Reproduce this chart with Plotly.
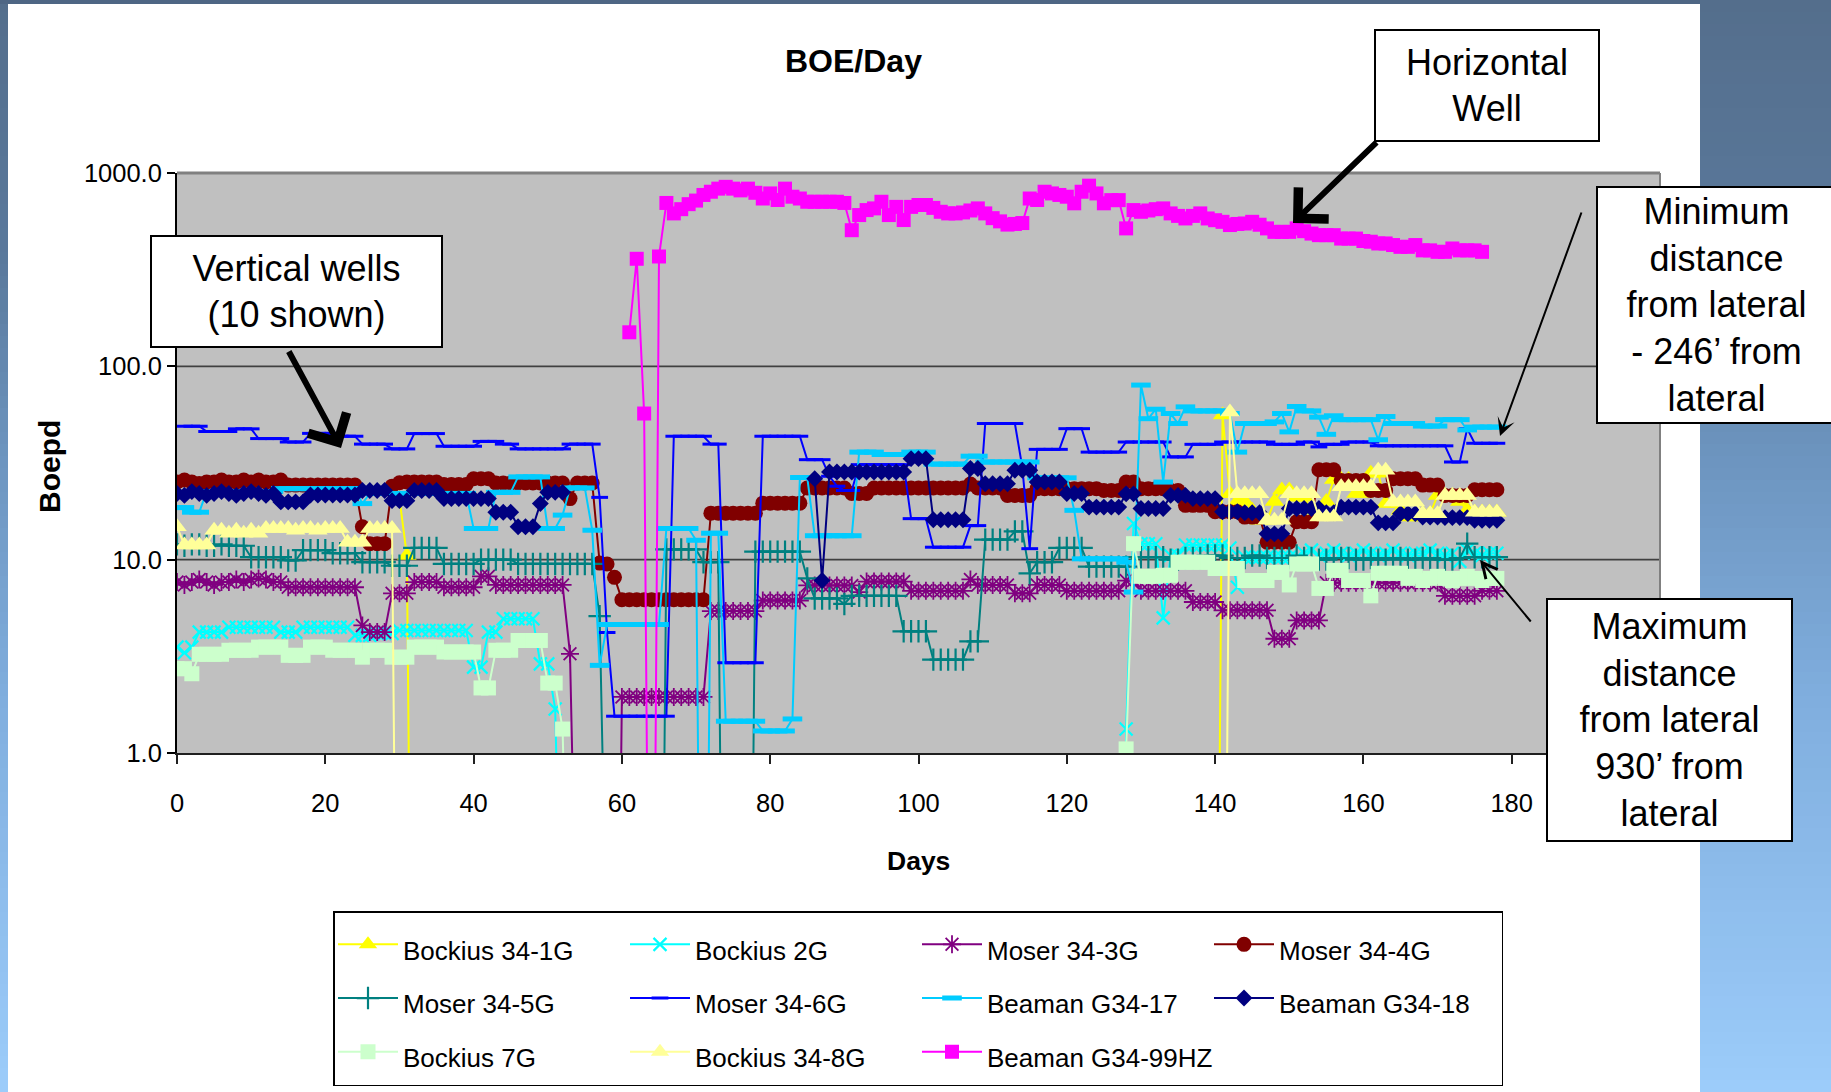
import plotly.graph_objects as go

# ---------------------------------------------------------------------------
# Daily production (BOE/day) for each well, index = production day 0..178.
# None = no reading; 0 = no production that day (drops below the log axis).
# ---------------------------------------------------------------------------
days = list(range(179))

bockius_34_1g = [
    None, None, None, None, None, None, None, None, None, None,   # 0
    None, None, None, None, None, None, None, None, None, None,   # 10
    None, None, None, None, None, None, None, None, None, None,   # 20
    20.7, 10.5, 0, 0, 0, 0, 0, 0, 0, 0,                           # 30
    0, 0, 0, 0, 0, 0, 0, 0, 0, 0,                                 # 40
    0, 0, 0, 0, 0, 0, 0, 0, 0, 0,                                 # 50
    0, 0, 0, 0, 0, 0, 0, 0, 0, 0,                                 # 60
    0, 0, 0, 0, 0, 0, 0, 0, 0, 0,                                 # 70
    0, 0, 0, 0, 0, 0, 0, 0, 0, 0,                                 # 80
    0, 0, 0, 0, 0, 0, 0, 0, 0, 0,                                 # 90
    0, 0, 0, 0, 0, 0, 0, 0, 0, 0,                                 # 100
    0, 0, 0, 0, 0, 0, 0, 0, 0, 0,                                 # 110
    0, 0, 0, 0, 0, 0, 0, 0, 0, 0,                                 # 120
    0, 0, 0, 0, 0, 0, 0, 0, 0, 0,                                 # 130
    0, 56, 21.9, 20, 20, 18, 16, 16, 20, 22.9,                    # 140
    22.9, 21, 21, 18, 17, 20, 26, 26, 26, 22,                     # 150
    22, 28, 28, 19.5, 19.5, 18, 16.6, 16.6, 17.3, 17.3,           # 160
    21.5, 21.5, 21.5, 20, 18, 17.6, 17.6, 17.6, 17.6,             # 170
]

bockius_2g = [
    3.53, 3.3, 3.53, 4.22, 4.22, 4.22, 4.22, 4.47, 4.47, 4.47,    # 0
    4.47, 4.47, 4.47, 4.47, 4.22, 4.22, 4.22, 4.47, 4.47, 4.47,   # 10
    4.47, 4.47, 4.47, 4.47, 4.06, 4.06, 4.06, 4.15, 4.15, 4.15,   # 20
    4.3, 4.3, 4.3, 4.3, 4.3, 4.3, 4.3, 4.3, 4.3, 4.3,             # 30
    2.78, 2.78, 4.22, 4.22, 4.95, 4.95, 4.95, 4.95, 4.95, 2.89,   # 40
    2.89, 1.69, 0, 0, 0, 0, 0, 0, 0, 0,                           # 50
    0, 0, 0, 0, 0, 0, 0, 0, 0, 0,                                 # 60
    0, 0, 0, 0, 0, 0, 0, 0, 0, 0,                                 # 70
    0, 0, 0, 0, 0, 0, 0, 0, 0, 0,                                 # 80
    0, 0, 0, 0, 0, 0, 0, 0, 0, 0,                                 # 90
    0, 0, 0, 0, 0, 0, 0, 0, 0, 0,                                 # 100
    0, 0, 0, 0, 0, 0, 0, 0, 0, 0,                                 # 110
    0, 0, 0, 0, 0, 0, 0, 0, 1.33, 15.4,                           # 120
    12.1, 12.1, 12.1, 5.0, 10.5, 10.5, 11.9, 11.9, 11.9, 11.9,    # 130
    11.9, 11.9, 11.5, 7.2, 10.3, 10.3, 10.3, 10.3, 10.3, 10.3,    # 140
    10.3, 10.3, 10.8, 11.2, 10.5, 10.8, 11.2, 10.8, 10.5, 10.8,   # 150
    11.2, 10.8, 10.5, 10.8, 11.2, 10.8, 10.5, 10.8, 10.8, 11.2,   # 160
    10.8, 10.5, 10.8, 9.8, 11.2, 10.8, 10.5, 10.8, 10.8,          # 170
]

moser_34_3g = [
    7.66, 7.4, 7.66, 7.9, 7.66, 7.4, 7.66, 7.66, 7.9, 7.66,       # 0
    7.9, 8.0, 7.9, 7.66, 7.66, 7.2, 7.2, 7.2, 7.2, 7.2,           # 10
    7.2, 7.2, 7.2, 7.2, 7.2, 4.57, 4.22, 4.22, 4.22, 6.7,         # 20
    6.7, 6.7, 7.66, 7.66, 7.66, 7.66, 7.2, 7.2, 7.2, 7.2,         # 30
    7.2, 8.2, 8.2, 7.4, 7.4, 7.4, 7.4, 7.4, 7.4, 7.4,             # 40
    7.4, 7.4, 7.4, 3.26, 0, 0, 0, 0, 0, 0,                        # 50
    1.95, 1.95, 1.95, 1.95, 1.95, 1.95, 1.95, 1.95, 1.95, 1.95,   # 60
    1.95, 1.95, 5.42, 5.42, 5.42, 5.42, 5.42, 5.42, 5.42, 6.15,   # 70
    6.15, 6.15, 6.15, 6.15, 6.15, 7.36, 7.36, 7.36, 7.36, 7.36,   # 80
    7.36, 7.36, 6.8, 7.7, 7.7, 7.7, 7.7, 7.7, 7.7, 6.9,           # 90
    6.9, 6.9, 6.9, 6.9, 6.9, 6.9, 6.9, 7.9, 7.4, 7.4,             # 100
    7.4, 7.4, 7.4, 6.7, 6.7, 6.7, 7.4, 7.4, 7.4, 7.4,             # 110
    6.9, 6.9, 6.9, 6.9, 6.9, 6.9, 6.9, 6.9, 7.8, 7.8,             # 120
    6.9, 6.9, 6.9, 6.9, 6.9, 6.9, 6.9, 6.04, 6.04, 6.04,          # 130
    6.04, 5.47, 5.47, 5.47, 5.47, 5.47, 5.47, 5.47, 3.9, 3.9,     # 140
    3.9, 4.85, 4.85, 4.85, 4.85, 7.6, 7.6, 7.6, 7.6, 7.6,         # 150
    7.6, 7.6, 7.6, 7.6, 7.6, 7.6, 7.6, 7.6, 7.6, 7.6,             # 160
    7.6, 6.5, 6.5, 6.5, 6.5, 6.5, 6.9, 6.9, 6.9,                  # 170
]

moser_34_4g = [
    25.2, 25.8, 25.2, 24.8, 25.2, 25.2, 25.8, 25.2, 25.2, 25.8,   # 0
    25.2, 25.8, 25.2, 25.2, 25.8, 24.3, 24.3, 24.3, 24.3, 24.3,   # 10
    24.3, 24.3, 24.3, 24.3, 24.3, 14.8, 12.1, 12.1, 12.1, 24.0,   # 20
    25.0, 25.2, 25.2, 25.2, 25.2, 25.2, 24.5, 24.5, 24.5, 24.5,   # 30
    26.2, 26.2, 26.2, 24.9, 24.9, 24.9, 24.9, 24.9, 24.9, 24.9,   # 40
    24.9, 24.9, 24.9, 20.7, 24.9, 24.9, 24.9, 9.6, 9.5, 8.1,      # 50
    6.2, 6.2, 6.2, 6.2, 6.2, 6.2, 6.2, 6.2, 6.2, 6.2,             # 60
    6.2, 6.2, 17.4, 17.4, 17.4, 17.4, 17.4, 17.4, 17.4, 19.6,     # 70
    19.6, 19.6, 19.6, 19.6, 19.6, 23.5, 23.5, 23.5, 23.5, 23.5,   # 80
    23.5, 22.0, 22.0, 22.0, 23.5, 23.5, 23.5, 23.5, 23.5, 23.5,   # 90
    23.5, 23.5, 23.5, 23.5, 23.5, 23.5, 23.5, 24.6, 23.5, 23.5,   # 100
    23.5, 23.5, 21.5, 21.5, 21.5, 21.5, 23.3, 23.3, 23.3, 23.3,   # 110
    23.3, 23.3, 23.3, 23.3, 23.3, 22.8, 22.8, 22.8, 25.2, 25.2,   # 120
    23.3, 23.3, 23.3, 23.3, 22.8, 22.8, 19.1, 19.1, 19.1, 19.1,   # 130
    17.7, 17.7, 17.7, 17.7, 16.6, 16.6, 16.6, 12.3, 12.3, 12.3,   # 140
    12.3, 15.7, 15.7, 15.7, 29.2, 29.2, 29.2, 25.7, 25.7, 25.7,   # 150
    25.7, 22.8, 22.8, 22.8, 26.2, 26.2, 26.2, 26.2, 24.3, 24.3,   # 160
    24.3, 21.5, 21.5, 21.5, 21.5, 23.0, 23.0, 23.0, 23.0,         # 170
]

moser_34_5g = [
    12.0, 11.8, 12.0, 12.0, 11.8, 11.8, 12.0, 11.8, 11.8, 11.8,   # 0
    10.3, 10.3, 10.3, 10.3, 10.3, 9.9, 9.9, 11.2, 11.2, 11.2,     # 10
    11.2, 10.8, 10.8, 10.8, 10.8, 9.7, 9.7, 9.7, 9.7, 9.3,        # 20
    9.3, 9.3, 11.5, 11.5, 11.5, 11.5, 9.5, 9.5, 9.5, 9.5,         # 30
    9.5, 10.0, 10.0, 10.0, 10.0, 10.0, 9.5, 9.5, 9.5, 9.5,        # 40
    9.5, 9.5, 9.5, 9.5, 9.5, 9.5, 9.5, 5.1, 0, 0,                 # 50
    0, 0, 0, 0, 0, 0, 11.3, 11.3, 11.3, 11.3,                     # 60
    11.3, 9.7, 9.7, 9.7, 0, 0, 0, 0, 11.0, 11.0,                  # 70
    11.0, 11.0, 11.0, 11.0, 11.0, 8.0, 6.3, 6.3, 6.3, 6.3,        # 80
    5.9, 6.5, 6.5, 6.5, 6.5, 6.5, 6.5, 6.5, 4.26, 4.26,           # 90
    4.26, 4.26, 3.04, 3.04, 3.04, 3.04, 3.04, 3.78, 3.78, 12.7,   # 100
    12.7, 12.7, 12.7, 14.0, 14.0, 8.5, 9.7, 9.7, 9.7, 11.5,       # 110
    11.5, 11.5, 11.5, 9.2, 9.2, 9.2, 9.2, 9.2, 9.2, 10.3,         # 120
    10.3, 10.3, 10.3, 10.3, 10.0, 10.0, 10.2, 10.2, 10.2, 10.5,   # 130
    10.5, 10.5, 10.2, 10.2, 10.2, 10.5, 10.5, 10.2, 10.2, 10.2,   # 140
    10.2, 10.5, 10.2, 10.2, 10.0, 10.0, 10.2, 10.2, 10.2, 10.0,   # 150
    10.0, 10.2, 10.0, 10.0, 10.2, 10.2, 10.0, 10.0, 10.2, 10.2,   # 160
    10.0, 10.0, 10.0, 10.2, 12.1, 10.3, 10.3, 10.3, 10.3,         # 170
]

moser_34_6g = [
    None, 49, 49, 49, 46, 46, 46, 46, 47.5, 47.5,                 # 0
    47.5, 42.3, 42.3, 42.3, 42.3, 40.6, 40.6, 40.6, 45, 45,       # 10
    45, 45, 43.5, 43.5, 43.5, 39.6, 39.6, 39.6, 39.6, 37.4,       # 20
    37.4, 37.4, 44.9, 44.9, 44.9, 44.9, 38.6, 38.6, 38.6, 38.6,   # 30
    38.6, 40.9, 40.9, 40.9, 39.6, 39.6, 37.4, 37.4, 37.4, 37.4,   # 40
    37.4, 37.4, 37.4, 39.6, 39.6, 39.6, 39.6, 21, 4.2, 1.55,      # 50
    1.55, 1.55, 1.55, 1.55, 1.55, 1.55, 1.55, 43.5, 43.5, 43.5,   # 60
    43.5, 43.5, 39.6, 39.6, 2.93, 2.93, 2.93, 2.93, 2.93, 43.5,   # 70
    43.5, 43.5, 43.5, 43.5, 43.5, 32.9, 32.9, 32.9, 27, 24,       # 80
    22.8, 22.8, 31, 31, 31, 31, 31, 31, 31, 16.3,                 # 90
    16.3, 16.3, 11.6, 11.6, 11.6, 11.6, 11.6, 15, 15, 50.6,       # 100
    50.6, 50.6, 50.6, 50.6, 30, 11.4, 37.2, 37.2, 37.2, 37.2,     # 110
    47.6, 47.6, 47.6, 36, 36, 36, 36, 36, 40.6, 40.6,             # 120
    40.6, 40.6, 40.6, 40.6, 34, 34, 34, 39.5, 39.5, 39.5,         # 130
    39.5, 40.6, 40.6, 40.6, 40.6, 40.6, 40.6, 40.6, 39.5, 39.5,   # 140
    39.5, 39.5, 40.6, 40.6, 38.3, 39.5, 39.5, 39.5, 40.6, 40.6,   # 150
    40.6, 40.6, 38.8, 38.8, 38.8, 38.8, 38.8, 38.8, 38.8, 38.8,   # 160
    38.8, 38.8, 32, 32, 47.6, 40, 40, 40, 40,                     # 170
]

beaman_g34_17 = [
    18.6, 18.6, 17.6, 17.6, 22.5, 22.5, 22.5, 22.5, 22.5, 22.5,   # 0
    22.5, 22.5, 22.5, 22.5, 23.3, 23.3, 23.3, 23.3, 23.3, 23.3,   # 10
    23.3, 23.3, 23.3, 23.3, 23.3, 19.5, 22, 22, 22, 22,           # 20
    22, 22, 22, 22, 22, 22, 22, 22, 22, 22,                       # 30
    14.5, 14.5, 14.5, 22.3, 22.3, 22.3, 26.8, 26.8, 26.8, 26.8,   # 40
    14.5, 14.5, 17, 23.5, 23.5, 23.5, 14.2, 2.84, 4.62, 4.62,     # 50
    4.62, 4.62, 4.62, 4.62, 4.62, 4.62, 14.5, 14.5, 14.5, 14.5,   # 60
    12.6, 0, 13.7, 13.7, 1.46, 1.46, 1.46, 1.46, 1.46, 1.3,       # 70
    1.3, 1.3, 1.3, 1.5, 26.6, 26.6, 13.3, 13.3, 13.3, 13.3,       # 80
    13.3, 13.3, 36, 36, 36, 35, 35, 35, 35, 36,                   # 90
    36, 36, 31.2, 31.2, 31.2, 31.2, 31.2, 34.3, 34.3, 32,         # 100
    32, 32, 32, 32, 32, 32, 26.5, 26.5, 26.5, 26.5,               # 110
    26.5, 18, 10.1, 10.1, 10.1, 10.1, 10.1, 10.1, 9.7, 6.8,       # 120
    80, 53.6, 60, 25.2, 57, 50.6, 61.7, 58.8, 58.8, 58.8,         # 130
    58.8, 58.8, 57, 36, 50.6, 50.6, 50.6, 50.6, 51.6, 57,         # 140
    45.8, 62, 58.8, 58.8, 54.6, 44.5, 55.5, 53, 53, 53,           # 150
    53, 53, 41.7, 55, 50.6, 50.6, 50.6, 50.6, 49.1, 49.1,         # 160
    49.1, 53, 53, 53, 46.9, 48.5, 48.5, 48.5, 48.5,               # 170
]

beaman_g34_18 = [
    22, 21.5, 22.5, 22, 21.5, 22, 22.5, 22, 21.5, 22,             # 0
    22.5, 22, 21.5, 22, 19.9, 19.9, 19.9, 19.9, 21.6, 21.6,       # 10
    21.6, 21.6, 21.6, 21.6, 21.6, 22.8, 22.8, 22.8, 22.8, 20.2,   # 20
    20.2, 20.2, 22.8, 22.8, 22.8, 22.8, 20.7, 20.7, 20.7, 20.7,   # 30
    20.7, 20.7, 20.7, 17.6, 17.6, 17.6, 14.8, 14.8, 14.8, 19.5,   # 40
    22.3, 22.3, 22.3, None, None, None, None, None, None, None,   # 50
    None, None, None, None, None, None, None, None, None, None,   # 60
    None, None, None, None, None, None, None, None, None, None,   # 70
    None, None, None, None, None, None, 26.2, 7.8, 28.4, 28.4,    # 80
    28.4, 28.4, 28.4, 28.4, 28.4, 28.4, 28.4, 28.4, 28.4, 33.3,   # 90
    33.3, 33.3, 16.1, 16.1, 16.1, 16.1, 16.1, 29.6, 29.6, 24.7,   # 100
    24.7, 24.7, 24.7, 29, 29, 29, 25.2, 25.2, 25.2, 25.2,         # 110
    22, 22, 22, 18.7, 18.7, 18.7, 18.7, 18.7, 21.9, 21.9,         # 120
    18.4, 18.4, 18.4, 18.4, 21.5, 21.5, 21.5, 20.7, 20.7, 20.7,   # 130
    20.7, 17.7, 17.7, 17.7, 17.5, 17.5, 17.5, 13.6, 13.6, 13.6,   # 140
    18.4, 18.4, 18.4, 18.4, 18.4, 17.5, 17.5, 18.7, 18.7, 18.7,   # 150
    18.7, 18.7, 15.5, 15.5, 15.5, 17.3, 17.3, 17.3, 16.6, 16.6,   # 160
    16.6, 16.5, 16.5, 16.5, 16.5, 16, 16, 16, 16,                 # 170
]

bockius_7g = [
    2.73, 2.73, 2.57, 3.24, 3.24, 3.24, 3.24, 3.4, 3.4, 3.4,      # 0
    3.4, 3.53, 3.53, 3.53, 3.53, 3.2, 3.2, 3.2, 3.53, 3.53,       # 10
    3.53, 3.4, 3.4, 3.4, 3.4, 3.13, 3.4, 3.4, 3.4, 3.13,          # 20
    3.13, 3.13, 3.53, 3.53, 3.53, 3.53, 3.33, 3.33, 3.33, 3.33,   # 30
    3.33, 2.17, 2.17, 3.4, 3.4, 3.4, 3.82, 3.82, 3.82, 3.82,      # 40
    2.3, 2.3, 1.33, 0, 0, 0, 0, 0, 0, 0,                          # 50
    0, 0, 0, 0, 0, 0, 0, 0, 0, 0,                                 # 60
    0, 0, 0, 0, 0, 0, 0, 0, 0, 0,                                 # 70
    0, 0, 0, 0, 0, 0, 0, 0, 0, 0,                                 # 80
    0, 0, 0, 0, 0, 0, 0, 0, 0, 0,                                 # 90
    0, 0, 0, 0, 0, 0, 0, 0, 0, 0,                                 # 100
    0, 0, 0, 0, 0, 0, 0, 0, 0, 0,                                 # 110
    0, 0, 0, 0, 0, 0, 0, 0, 1.05, 12.1,                           # 120
    8.2, 8.2, 8.2, 8.3, 8.3, 9.7, 9.7, 9.7, 9.7, 9.7,             # 130
    9.0, 9.0, 9.0, 9.0, 7.8, 7.8, 7.8, 7.8, 8.6, 8.6,             # 140
    7.4, 9.5, 9.5, 9.5, 7.1, 7.1, 8.8, 8.8, 7.8, 7.8,             # 150
    7.8, 6.5, 8.5, 8.5, 8.5, 8.5, 8.0, 8.2, 7.8, 8.0,             # 160
    8.2, 8.0, 7.8, 8.0, 8.2, 8.0, 7.8, 8.0, 8.0,                  # 170
]

bockius_34_8g = [
    14.8, 11.9, 11.9, 11.9, 11.9, 14.2, 14.2, 13.7, 14.2, 13.7,   # 0
    14.2, 13.7, 14.5, 14.5, 14.5, 14.5, 14.2, 14.5, 14.5, 14.2,   # 10
    14.5, 14.5, 14.5, 12.3, 12.3, 12.3, 14.5, 14.5, 14.5, 14.5,   # 20
    0, 0, 0, 0, 0, 0, 0, 0, 0, 0,                                 # 30
    0, 0, 0, 0, 0, 0, 0, 0, 0, 0,                                 # 40
    0, 0, 0, 0, 0, 0, 0, 0, 0, 0,                                 # 50
    0, 0, 0, 0, 0, 0, 0, 0, 0, 0,                                 # 60
    0, 0, 0, 0, 0, 0, 0, 0, 0, 0,                                 # 70
    0, 0, 0, 0, 0, 0, 0, 0, 0, 0,                                 # 80
    0, 0, 0, 0, 0, 0, 0, 0, 0, 0,                                 # 90
    0, 0, 0, 0, 0, 0, 0, 0, 0, 0,                                 # 100
    0, 0, 0, 0, 0, 0, 0, 0, 0, 0,                                 # 110
    0, 0, 0, 0, 0, 0, 0, 0, 0, 0,                                 # 120
    0, 0, 0, 0, 0, 0, 0, 0, 0, 0,                                 # 130
    0, 0, 58, 21.9, 21.9, 21.9, 21.9, 16, 16, 16,                 # 140
    21.9, 21.9, 21.9, 21.9, 16.6, 16.6, 16.6, 23.8, 23.8, 23.8,   # 150
    23.8, 23.8, 29, 29, 19.9, 19.9, 19.9, 19.9, 17.3, 17.3,       # 160
    17.3, 21.5, 21.5, 21.5, 21.5, 17.6, 17.6, 17.6, 17.6,         # 170
]

beaman_g34_99hz = [
    None, None, None, None, None, None, None, None, None, None,   # 0
    None, None, None, None, None, None, None, None, None, None,   # 10
    None, None, None, None, None, None, None, None, None, None,   # 20
    None, None, None, None, None, None, None, None, None, None,   # 30
    None, None, None, None, None, None, None, None, None, None,   # 40
    None, None, None, None, None, None, None, None, None, None,   # 50
    None, 150, 360, 57, 0, 370, 700, 618, 650, 690,               # 60
    720, 770, 800, 830, 848, 830, 813, 830, 790, 738,             # 70
    784, 725, 830, 754, 738, 710, 710, 710, 710, 710,             # 80
    700, 506, 606, 643, 656, 710, 606, 668, 571, 668,             # 90
    683, 683, 660, 630, 618, 618, 625, 640, 656, 618,             # 100
    584, 562, 541, 545, 551, 738, 725, 800, 784, 770,             # 110
    754, 697, 800, 860, 784, 697, 724, 724, 517, 643,             # 120
    630, 640, 650, 656, 618, 600, 582, 600, 618, 582,             # 130
    570, 559, 538, 545, 548, 559, 540, 517, 496, 496,             # 140
    496, 517, 500, 486, 477, 477, 477, 458, 458, 458,             # 150
    445, 441, 432, 432, 424, 415, 415, 424, 398, 398,             # 160
    391, 391, 407, 398, 398, 398, 391, None, None,                # 170
]

x_tick_vals = [0, 20, 40, 60, 80, 100, 120, 140, 160, 180]
x_tick_text = ["0", "20", "40", "60", "80", "100", "120", "140", "160", "180"]
y_tick_vals = [1, 10, 100, 1000]
y_tick_text = ["1.0", "10.0", "100.0", "1000.0"]

# ---------------------------------------------------------------------------
# Page geometry and fonts
# ---------------------------------------------------------------------------
W, H = 1831, 1092
ML, MR, MT, MB = 177, 171, 173, 339
PW, PH = W - ML - MR, H - MT - MB

FONT = "Liberation Sans, Arial, sans-serif"

# zero production cannot sit on a log axis: park it far below the visible range
BELOW_AXIS = 1e-3


def fx(px):
    """page pixel x -> paper x"""
    return (px - ML) / PW


def fy(py):
    """page pixel y -> paper y"""
    return (H - MB - py) / PH


wells = [
    ("Bockius 34-1G", bockius_34_1g, "#FFFF00", "triangle-up", 17, 0, "c1"),
    ("Bockius 2G", bockius_2g, "#00FFFF", "x-thin-open", 13, 2.2, "c2"),
    ("Moser 34-3G", moser_34_3g, "#800080", "asterisk-open", 15, 1.8, "c3"),
    ("Moser 34-4G", moser_34_4g, "#800000", "circle", 15, 0, "c4"),
    ("Moser 34-5G", moser_34_5g, "#008080", "cross-thin-open", 16, 2.2, "c1"),
    ("Moser 34-6G", moser_34_6g, "#0000FF", "line-ew-open", 12, 3, "c2"),
    ("Beaman G34-17", beaman_g34_17, "#00CCFF", "line-ew-open", 14, 5, "c3"),
    ("Beaman G34-18", beaman_g34_18, "#000080", "diamond", 13, 0, "c4"),
    ("Bockius 7G", bockius_7g, "#CCFFCC", "square", 15, 0, "c1"),
    ("Bockius 34-8G", bockius_34_8g, "#FFFF99", "triangle-up", 17, 0, "c2"),
    ("Beaman G34-99HZ", beaman_g34_99hz, "#FF00FF", "square", 14, 0, "c3"),
]

fig = go.Figure()
for name, vals, color, symbol, size, mlw, group in wells:
    yv = [None if v is None else (v if v > 0 else BELOW_AXIS) for v in vals]
    fig.add_trace(go.Scatter(
        x=days, y=yv, mode="lines+markers",
        name='<span style="font-size:26px">%s</span>' % name,
        legendgroup=group,
        line=dict(color=color, width=2),
        marker=dict(symbol=symbol, size=size, color=color,
                    line=dict(color=color, width=mlw)),
        connectgaps=False, hoverinfo="skip",
    ))

# ---------------------------------------------------------------------------
# Background pieces: blue slide frame, grey plot area, grid and border
# ---------------------------------------------------------------------------
shapes = []
frame_stops = [(0, (84, 110, 140)), (260, (90, 121, 156)), (450, (108, 148, 190)),
               (700, (128, 174, 222)), (1092, (156, 204, 250))]


def frame_color(py):
    for (y0, c0), (y1, c1) in zip(frame_stops[:-1], frame_stops[1:]):
        if y0 <= py <= y1:
            t = (py - y0) / (y1 - y0)
            return "rgb(%d,%d,%d)" % tuple(round(a + (b - a) * t) for a, b in zip(c0, c1))
    return "rgb(%d,%d,%d)" % frame_stops[-1][1]


band = 12
for top in range(0, H, band):
    col = frame_color(top + band / 2)
    for xa, xb in ((0, 8), (1700, W)):
        shapes.append(dict(type="rect", xref="paper", yref="paper", layer="below",
                           x0=fx(xa), x1=fx(xb), y0=fy(top + band + 0.5), y1=fy(top),
                           fillcolor=col, line=dict(width=0)))
shapes.append(dict(type="rect", xref="paper", yref="paper", layer="below",
                   x0=fx(0), x1=fx(1700), y0=fy(4), y1=fy(0),
                   fillcolor="rgb(78,102,132)", line=dict(width=0)))

shapes.append(dict(type="rect", xref="paper", yref="paper", layer="below",
                   x0=0, x1=1, y0=0, y1=1, fillcolor="#C0C0C0", line=dict(width=0)))
for gy in (1 / 3, 2 / 3):
    shapes.append(dict(type="line", xref="paper", yref="paper", layer="below",
                       x0=0, x1=1, y0=gy, y1=gy, line=dict(color="#404040", width=1.6)))
shapes.append(dict(type="line", xref="paper", yref="paper", layer="below",
                   x0=0, x1=1, y0=1, y1=1, line=dict(color="#808080", width=3)))
shapes.append(dict(type="line", xref="paper", yref="paper", layer="below",
                   x0=1, x1=1, y0=0, y1=1, line=dict(color="#808080", width=2)))

# ---------------------------------------------------------------------------
# Titles, call-out boxes and arrows
# ---------------------------------------------------------------------------
ann = []
ann.append(dict(text="BOE/Day", xref="paper", yref="paper", x=fx(853.6), y=fy(61),
                showarrow=False, xanchor="center", yanchor="middle",
                font=dict(family=FONT, size=32, color="black", weight="bold")))
ann.append(dict(text="Days", xref="paper", yref="paper", x=fx(918), y=fy(861),
                showarrow=False, xanchor="center", yanchor="middle",
                font=dict(family=FONT, size=26.5, color="black", weight="bold")))
ann.append(dict(text="Boepd", xref="paper", yref="paper", x=fx(49), y=fy(467),
                showarrow=False, xanchor="center", yanchor="middle", textangle=-90,
                font=dict(family=FONT, size=30, color="black", weight="bold")))

arrows = [
    # head (px), tail (px), width, head style, head size
    ((341, 448), (288, 350), 6, 4, 1.4),
    ((1293, 223), (1378, 141), 6, 4, 1.4),
    ((1500, 436), (1582, 211), 2, 3, 1.5),
    ((1480, 560), (1532, 623), 2, 5, 1.5),
]
for (hx, hy), (tx, ty), aw, style, asz in arrows:
    ann.append(dict(text="", xref="paper", yref="paper", x=fx(hx), y=fy(hy),
                    ax=tx - hx, ay=ty - hy, showarrow=True, arrowhead=style,
                    arrowsize=asz, arrowwidth=aw, arrowcolor="black", standoff=0))

boxes = [
    ("Vertical wells<br>(10 shown)", 296.5, 291.5, 291, 111),
    ("Horizontal<br>Well", 1487, 85.5, 224, 111),
    ("Minimum<br>distance<br>from lateral<br>- 246\u2019 from<br>lateral", 1716.5, 305, 239, 236),
    ("Maximum<br>distance<br>from lateral<br>930\u2019 from<br>lateral", 1669.5, 720, 245, 242),
]
for text, cx, cy, bw, bh in boxes:
    ann.append(dict(text=text, xref="paper", yref="paper", x=fx(cx), y=fy(cy),
                    showarrow=False, xanchor="center", yanchor="middle",
                    width=bw - 2, height=bh - 2, align="center", valign="middle",
                    bgcolor="white", bordercolor="black", borderwidth=2, borderpad=0,
                    font=dict(family=FONT, size=36, color="black")))

axis_font = dict(family=FONT, size=25.5, color="black")

fig.update_layout(
    width=W, height=H,
    margin=dict(l=ML, r=MR, t=MT, b=MB, autoexpand=False),
    paper_bgcolor="white", plot_bgcolor="rgba(0,0,0,0)",
    showlegend=True,
    legend=dict(orientation="h", x=fx(333), y=fy(911), xanchor="left", yanchor="top",
                traceorder="grouped", tracegroupgap=0, entrywidth=217, entrywidthmode="pixels",
                itemwidth=60, bgcolor="white", bordercolor="black", borderwidth=1.5,
                font=dict(family=FONT, size=39, color="black"),
                itemclick=False, itemdoubleclick=False),
    xaxis=dict(range=[0, 200], tickvals=x_tick_vals, ticktext=x_tick_text,
               ticks="outside", ticklen=9, tickwidth=1.5, tickcolor="#202020",
               ticklabelstandoff=17,
               showline=True, linecolor="#202020", linewidth=2,
               showgrid=False, zeroline=False, tickfont=axis_font, fixedrange=True),
    yaxis=dict(type="log", range=[0, 3], tickvals=y_tick_vals, ticktext=y_tick_text,
               ticks="outside", ticklen=8, tickwidth=1.5, tickcolor="black",
               showline=True, linecolor="black", linewidth=2,
               showgrid=False, zeroline=False, tickfont=axis_font, fixedrange=True),
    shapes=shapes, annotations=ann,
)

fig.write_html("out.html")
